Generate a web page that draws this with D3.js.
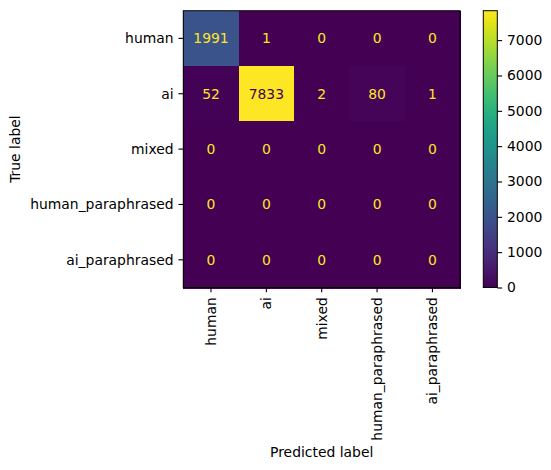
<!DOCTYPE html>
<html><head><meta charset="utf-8">
<script src="https://cdn.jsdelivr.net/npm/d3@7"></script>
<style>body{margin:0;background:#fff}text{font-family:"DejaVu Sans",sans-serif}</style>
</head><body><svg id="c" width="551" height="470"></svg>
<script>
const trueLabels = ["human","ai","mixed","human_paraphrased","ai_paraphrased"];
const predLabels = ["human","ai","mixed","human_paraphrased","ai_paraphrased"];
const matrix = [
  [1991, 1, 0, 0, 0],
  [52, 7833, 2, 80, 1],
  [0, 0, 0, 0, 0],
  [0, 0, 0, 0, 0],
  [0, 0, 0, 0, 0]
];
const colorbarTicks = [0,1000,2000,3000,4000,5000,6000,7000];

const svg = d3.select("#c");
const L = 183.3, T = 10.7, S = 276.8;
const fs = 13.9;
const x = d3.scaleBand().domain(d3.range(5)).range([L, L+S]);
const y = d3.scaleBand().domain(d3.range(5)).range([T, T+S]);
const vmax = d3.max(matrix.flat()), vmin = d3.min(matrix.flat());
const color = d3.scaleSequential(d3.interpolateViridis).domain([vmin, vmax]);

const cells = [];
matrix.forEach((row,i)=>row.forEach((v,j)=>cells.push({i,j,v})));
svg.append("g").attr("shape-rendering","crispEdges").selectAll("rect").data(cells).join("rect")
  .attr("x",d=>x(d.j)).attr("y",d=>y(d.i))
  .attr("width",x.bandwidth()+1).attr("height",y.bandwidth()+1)
  .attr("fill",d=>color(d.v));
const thresh = (vmax+vmin)/2;
svg.append("g").selectAll("text").data(cells).join("text")
  .attr("x",d=>x(d.j)+x.bandwidth()/2).attr("y",d=>y(d.i)+y.bandwidth()/2)
  .attr("text-anchor","middle").attr("dy","0.36em")
  .attr("font-size",fs)
  .attr("fill",d=>d.v<thresh?d3.interpolateViridis(1):d3.interpolateViridis(0))
  .text(d=>d.v);
svg.append("rect").attr("x",L).attr("y",T).attr("width",S).attr("height",S)
  .attr("fill","none").attr("stroke","#000").attr("stroke-width",1);

// y axis
const tk = 4.86, pad = 4.86;
const yg = svg.append("g");
trueLabels.forEach((lab,i)=>{
  const cy = y(i)+y.bandwidth()/2;
  yg.append("line").attr("x1",L-tk).attr("x2",L).attr("y1",cy).attr("y2",cy).attr("stroke","#000").attr("stroke-width",1.1);
  yg.append("text").attr("x",L-tk-pad).attr("y",cy).attr("dy","0.36em").attr("text-anchor","end").attr("font-size",fs).attr("fill","#000").text(lab);
});
// x axis
const xg = svg.append("g");
predLabels.forEach((lab,j)=>{
  const cx = x(j)+x.bandwidth()/2;
  xg.append("line").attr("x1",cx).attr("x2",cx).attr("y1",T+S).attr("y2",T+S+tk).attr("stroke","#000").attr("stroke-width",1.1);
  xg.append("text").attr("transform",`translate(${cx},${T+S+tk+pad}) rotate(-90)`)
    .attr("dy","0.36em").attr("text-anchor","end").attr("font-size",fs).attr("fill","#000").text(lab);
});
svg.append("text").attr("x",L+S/2).attr("y",457).attr("text-anchor","middle").attr("font-size",fs).text("Predicted label");
svg.append("text").attr("transform",`translate(20,${T+S/2}) rotate(-90)`).attr("text-anchor","middle").attr("font-size",fs).text("True label");

// colorbar
const CL = 483.3, CW = 14;
const cy = d3.scaleLinear().domain([vmin, vmax]).range([T+S, T]);
const defs = svg.append("defs");
const grad = defs.append("linearGradient").attr("id","vg").attr("x1",0).attr("y1",1).attr("x2",0).attr("y2",0);
d3.range(0,1.0001,0.05).forEach(t=>grad.append("stop").attr("offset",t).attr("stop-color",d3.interpolateViridis(t)));
svg.append("rect").attr("x",CL).attr("y",T).attr("width",CW).attr("height",S).attr("fill","url(#vg)").attr("stroke","#000").attr("stroke-width",1);
const cax = svg.append("g").attr("transform",`translate(${CL+CW},0)`)
  .call(d3.axisRight(cy).tickValues(colorbarTicks).tickSize(tk).tickPadding(pad).tickFormat(d3.format("d")));
cax.select(".domain").remove();
cax.selectAll("text").attr("font-size",fs).attr("font-family","DejaVu Sans").attr("fill","#000");
cax.selectAll("line").attr("stroke","#000").attr("stroke-width",1.1);
</script></body></html>
